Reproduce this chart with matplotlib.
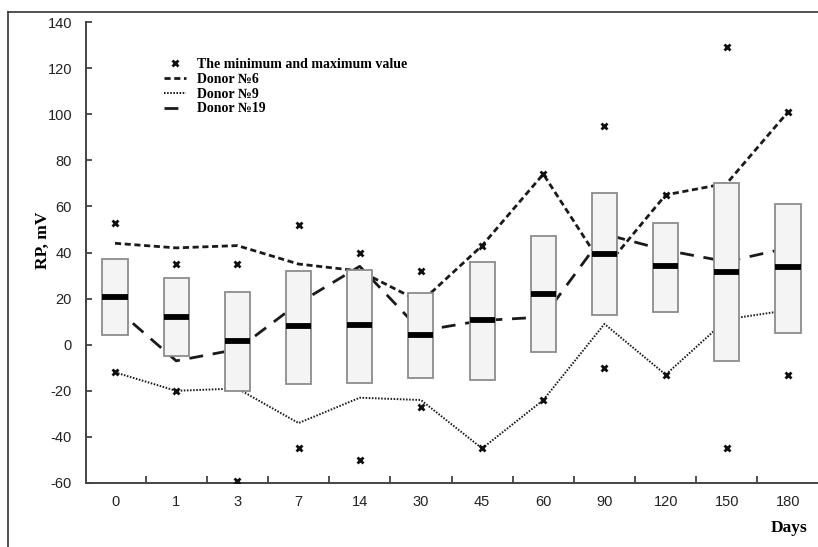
import numpy as np
import matplotlib
matplotlib.use('Agg')
from matplotlib import pyplot as plt
from matplotlib.lines import Line2D

days = ['0', '1', '3', '7', '14', '30', '45', '60', '90', '120', '150', '180']
box_low = [4, -5, -20, -17, -16.5, -14.5, -15.5, -3, 13, 14, -7, 5]
box_high = [37, 29, 23, 32, 32.5, 22.5, 36, 47, 66, 53, 70, 61]
median = [20.5, 12, 1.5, 8, 8.5, 4, 10.5, 22, 39.5, 34, 31.5, 33.5]
v_max = [53, 35, 35, 52, 40, 32, 43, 74, 95, 65, 129, 101]
v_min = [-12, -20, -59, -45, -50, -27, -45, -24, -10, -13, -45, -13]
donor6 = [44, 42, 43, 35, 32, 18.5, 43, 74, 33, 65, 70, 101]
donor9 = [-12, -20, -19, -34, -23, -24, -45, -24, 9, -13, 11, 15]
donor19 = [16, -7, -2, 18, 34, 6, 10.5, 12, 48, 41, 36, 42]

plt.rcParams['font.family'] = 'Liberation Sans'
plt.rcParams['axes.unicode_minus'] = False
serif = 'Liberation Serif'

fig = plt.figure(figsize=(8.18, 5.47), dpi=100)
ax = fig.add_axes([86/818, 64/547, (818-86)/818, 461/547])
x = np.arange(len(days))

# donor lines (drawn under the boxes)
ax.plot(x, donor6, color='#1a1a1a', lw=2.0, dashes=(2.2, 1.3), zorder=2, label='Donor \u21166')
ax.plot(x, donor9, color='#1a1a1a', lw=1.4, dashes=(0.8, 0.8), zorder=2, label='Donor \u21169')
ax.plot(x, donor19, color='#1a1a1a', lw=2.0, dashes=(5, 3.5), zorder=2, label='Donor \u211619')

# boxes
w = 0.41
ax.bar(x, np.array(box_high) - np.array(box_low), bottom=box_low, width=w,
       color='#f4f4f4', edgecolor='#8c8c8c', linewidth=1.3, zorder=3)
ax.hlines(median, x - w/2, x + w/2, color='black', lw=4.2, zorder=4)

# min / max markers
ax.plot(x, v_max, 'x', color='#111111', ms=5, mew=2, zorder=5,
        label='The minimum and maximum value')
ax.plot(x, v_min, 'x', color='#111111', ms=5, mew=2, zorder=5)

ax.set_xlim(-0.474, 11.49)
ax.set_ylim(-60, 140)
ax.set_yticks(range(-60, 141, 20))
ax.set_xticks(x)
ax.set_xticklabels(days)
ax.set_xticks(x[:-1] + 0.5, minor=True)
ax.tick_params(axis='x', which='major', length=0, pad=9, labelsize=10.5, labelcolor='#222222')
ax.tick_params(axis='x', which='minor', direction='in', length=5, width=1.2, color='#333333')
ax.tick_params(axis='y', direction='in', length=4, width=1.2, color='#333333', pad=10,
               labelsize=10.5, labelcolor='#222222')
for s in ['top', 'right']:
    ax.spines[s].set_visible(False)
for s in ['left', 'bottom']:
    ax.spines[s].set_linewidth(1.4)
    ax.spines[s].set_color('#444444')
ax.set_facecolor('none')

fig.text(43/818, 1 - 240/547, 'RP, mV', rotation=90, ha='center', va='center',
         family=serif, fontweight='bold', fontsize=12.5)
fig.text(789/818, 1 - 528/547, 'Days', ha='center', va='center',
         family=serif, fontweight='bold', fontsize=12.5)

h, l = ax.get_legend_handles_labels()
order = [3, 0, 1, 2]
ax.legend([h[i] for i in order], [l[i] for i in order], loc='upper left',
          bbox_to_anchor=(164/818, 1 - 58/547), bbox_transform=fig.transFigure,
          frameon=False, prop={'family': serif, 'weight': 'bold', 'size': 10},
          handlelength=1.6, handletextpad=0.8, labelspacing=0.13, borderpad=0,
          borderaxespad=0)

# outer frame lines (top and left)
fig.add_artist(Line2D([8/818, 1], [1 - 12/547, 1 - 12/547], color='#333333', lw=1.2,
                      transform=fig.transFigure))
fig.add_artist(Line2D([8/818, 8/818], [0, 1 - 12/547], color='#333333', lw=1.2,
                      transform=fig.transFigure))

fig.savefig('out.png', dpi=100)
